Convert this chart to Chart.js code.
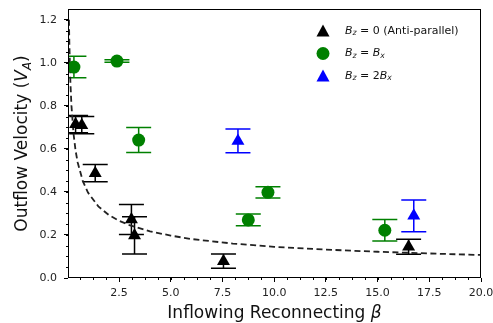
<!DOCTYPE html>
<html>
<head>
<meta charset="utf-8">
<script src="https://cdn.jsdelivr.net/npm/chart.js@4.4.0/dist/chart.umd.min.js"></script>
<style>
  html, body { margin: 0; padding: 0; background: #fff; }
  canvas { display: block; }
</style>
</head>
<body>
<canvas id="chart" width="493" height="323"></canvas>
<script>
// ─── data ──────────────────────────────────────────────────────────
// Bz = 0 (anti-parallel)
const antiBeta = [0.4, 0.7, 1.35, 3.1, 3.25, 7.55, 16.5];
const antiVel  = [0.715, 0.71, 0.487, 0.272, 0.198, 0.078, 0.145];
const antiErr  = [0.04, 0.04, 0.04, 0.07, 0.087, 0.033, 0.035];

// Bz = Bx
const guideBeta = [0.32, 2.4, 3.45, 8.75, 9.7, 15.35];
const guideVel  = [0.98, 1.008, 0.641, 0.27, 0.398, 0.222];
const guideErr  = [0.05, 0.006, 0.058, 0.027, 0.026, 0.05];

// Bz = 2Bx
const strongBeta = [8.25, 16.75];
const strongVel  = [0.637, 0.289];
const strongErr  = [0.055, 0.074];

// dashed fit curve
const fitBeta = [0.08, 0.1, 0.15, 0.2, 0.3, 0.4, 0.5, 0.75, 1, 1.5, 2, 2.5, 3, 4, 5, 6, 8, 10, 12.5, 15, 17.5, 20];
const fitVel  = [1.2, 1.086, 0.91, 0.802, 0.672, 0.592, 0.538, 0.45, 0.397, 0.333, 0.293, 0.266, 0.246, 0.217, 0.197, 0.181, 0.16, 0.145, 0.132, 0.122, 0.114, 0.107];

const xTicks = [2.5, 5, 7.5, 10, 12.5, 15, 17.5, 20];
const yTicks = [0, 0.2, 0.4, 0.6, 0.8, 1.0, 1.2];

const antiLabel   = [["B", "i"], ["z", "s"], [" = 0 ", "r"], ["(Anti-parallel)", "r"]];
const guideLabel  = [["B", "i"], ["z", "s"], [" = ", "r"], ["B", "i"], ["x", "s"]];
const strongLabel = [["B", "i"], ["z", "s"], [" = 2", "r"], ["B", "i"], ["x", "s"]];
const xTitle = [["Inflowing Reconnecting ", "r"], ["β", "i"]];
const yTitle = [["Outflow Velocity (", "r"], ["V", "i"], ["A", "s"], [")", "r"]];

const FONT = '"DejaVu Sans"';
const pts = (xs, ys) => xs.map((v, i) => ({ x: v, y: ys[i] }));

// simple mathtext-ish writer: r = roman, i = italic, s = italic subscript
function richWidth(ctx, parts, size) {
    let w = 0;
    parts.forEach(([t, s]) => {
        ctx.font = (s === "r" ? "" : "italic ") + (s === "s" ? size * 0.7 : size) + "px " + FONT;
        w += ctx.measureText(t).width;
    });
    return w;
}
function drawRich(ctx, parts, x, y, size) {
    parts.forEach(([t, s]) => {
        const sub = s === "s";
        ctx.font = (s === "r" ? "" : "italic ") + (sub ? size * 0.7 : size) + "px " + FONT;
        ctx.fillText(t, x, sub ? y + size * 0.22 : y);
        x += ctx.measureText(t).width;
    });
}

// ─── error bars ────────────────────────────────────────────────────
const errorBarPlugin = {
    id: "errorBars",
    beforeDatasetsDraw(chart) {
        const { ctx, chartArea: a, scales: { x, y } } = chart;
        ctx.save();
        ctx.beginPath();
        ctx.rect(a.left, a.top, a.right - a.left, a.bottom - a.top);
        ctx.clip();
        chart.data.datasets.forEach(ds => {
            if (!ds.errors) return;
            ctx.strokeStyle = ds.backgroundColor;
            ctx.lineWidth = 1.5;
            ds.data.forEach((p, i) => {
                const px = x.getPixelForValue(p.x);
                const t = y.getPixelForValue(p.y + ds.errors[i]);
                const b = y.getPixelForValue(p.y - ds.errors[i]);
                ctx.beginPath();
                ctx.moveTo(px, t); ctx.lineTo(px, b);
                ctx.moveTo(px - 12.5, t); ctx.lineTo(px + 12.5, t);
                ctx.moveTo(px - 12.5, b); ctx.lineTo(px + 12.5, b);
                ctx.stroke();
            });
        });
        ctx.restore();
    },
};

// ─── frame, minor ticks, titles, legend ───────────────────────────
const decorPlugin = {
    id: "decor",
    afterDraw(chart) {
        const { ctx, chartArea: a, scales: { x, y } } = chart;
        ctx.save();
        ctx.strokeStyle = "#000";
        ctx.lineWidth = 1;
        ctx.strokeRect(a.left + 0.5, a.top + 0.5, a.right - a.left - 1, a.bottom - a.top - 1);

        // minor ticks
        ctx.beginPath();
        for (let v = 0.625; v < 20; v += 0.625) {
            const px = Math.round(x.getPixelForValue(v)) + 0.5;
            ctx.moveTo(px, a.bottom); ctx.lineTo(px, a.bottom + 2);
        }
        for (let v = 0.05; v < 1.25; v += 0.05) {
            const py = Math.round(y.getPixelForValue(v)) + 0.5;
            ctx.moveTo(a.left, py); ctx.lineTo(a.left - 2, py);
        }
        ctx.stroke();

        // axis titles
        ctx.fillStyle = "#111";
        ctx.textBaseline = "alphabetic";
        const tSize = 17;
        const cx = (a.left + a.right) / 2;
        drawRich(ctx, xTitle, cx - richWidth(ctx, xTitle, tSize) / 2, 318, tSize);
        ctx.save();
        ctx.translate(27, (a.top + a.bottom) / 2);
        ctx.rotate(-Math.PI / 2);
        drawRich(ctx, yTitle, -richWidth(ctx, yTitle, tSize) / 2, 0, tSize);
        ctx.restore();

        // legend
        const rows = [
            { label: antiLabel, color: "#000", style: "triangle" },
            { label: guideLabel, color: "green", style: "circle" },
            { label: strongLabel, color: "blue", style: "triangle" },
        ];
        ctx.textBaseline = "middle";
        rows.forEach((r, i) => {
            const my = 31 + i * 22.5;
            const mx = 323;
            ctx.fillStyle = r.color;
            ctx.beginPath();
            if (r.style === "circle") {
                ctx.arc(mx, my, 6.5, 0, Math.PI * 2);
            } else {
                ctx.moveTo(mx, my - 6.5);
                ctx.lineTo(mx + 6.5, my + 5.5);
                ctx.lineTo(mx - 6.5, my + 5.5);
                ctx.closePath();
            }
            ctx.fill();
            ctx.fillStyle = "#111";
            drawRich(ctx, r.label, 345, my, 11);
        });
        ctx.restore();
    },
};

Chart.register(errorBarPlugin, decorPlugin);

const tickFont = { family: FONT, size: 11 };

new Chart(document.getElementById("chart"), {
    type: "scatter",
    data: {
        datasets: [
            {
                data: pts(strongBeta, strongVel), errors: strongErr,
                backgroundColor: "blue", pointStyle: "triangle",
                pointRadius: 7.5, pointBorderWidth: 0,
            },
            {
                data: pts(guideBeta, guideVel), errors: guideErr,
                backgroundColor: "green", pointStyle: "circle",
                pointRadius: 6.5, pointBorderWidth: 0,
            },
            {
                data: pts(antiBeta, antiVel), errors: antiErr,
                backgroundColor: "#000", pointStyle: "triangle",
                pointRadius: 7.5, pointBorderWidth: 0,
            },
            {
                data: pts(fitBeta, fitVel),
                showLine: true, pointRadius: 0,
                borderColor: "#222", borderWidth: 1.8, borderDash: [6, 3.5],
                tension: 0,
            },
        ],
    },
    options: {
        responsive: false,
        animation: false,
        events: [],
        layout: { padding: { top: 9, right: 12, left: 0, bottom: 0 } },
        plugins: { legend: { display: false }, tooltip: { enabled: false } },
        scales: {
            x: {
                type: "linear", min: 0.034, max: 20,
                afterBuildTicks: s => { s.ticks = xTicks.map(v => ({ value: v })); },
                afterFit: s => { s.height = 45; s.paddingLeft = 0; s.paddingRight = 0; },
                grid: { drawOnChartArea: false, tickLength: 4, tickColor: "#000", tickWidth: 1 },
                border: { display: false },
                ticks: { font: tickFont, color: "#222", padding: 5, maxRotation: 0, autoSkip: false, callback: v => v.toFixed(1) },
            },
            y: {
                type: "linear", min: 0, max: 1.25,
                afterBuildTicks: s => { s.ticks = yTicks.map(v => ({ value: v })); },
                afterFit: s => { s.width = 68; s.paddingTop = 0; s.paddingBottom = 0; },
                grid: { drawOnChartArea: false, tickLength: 4, tickColor: "#000", tickWidth: 1 },
                border: { display: false },
                ticks: { font: tickFont, color: "#222", padding: 7, callback: v => v.toFixed(1) },
            },
        },
    },
});
</script>
</body>
</html>
